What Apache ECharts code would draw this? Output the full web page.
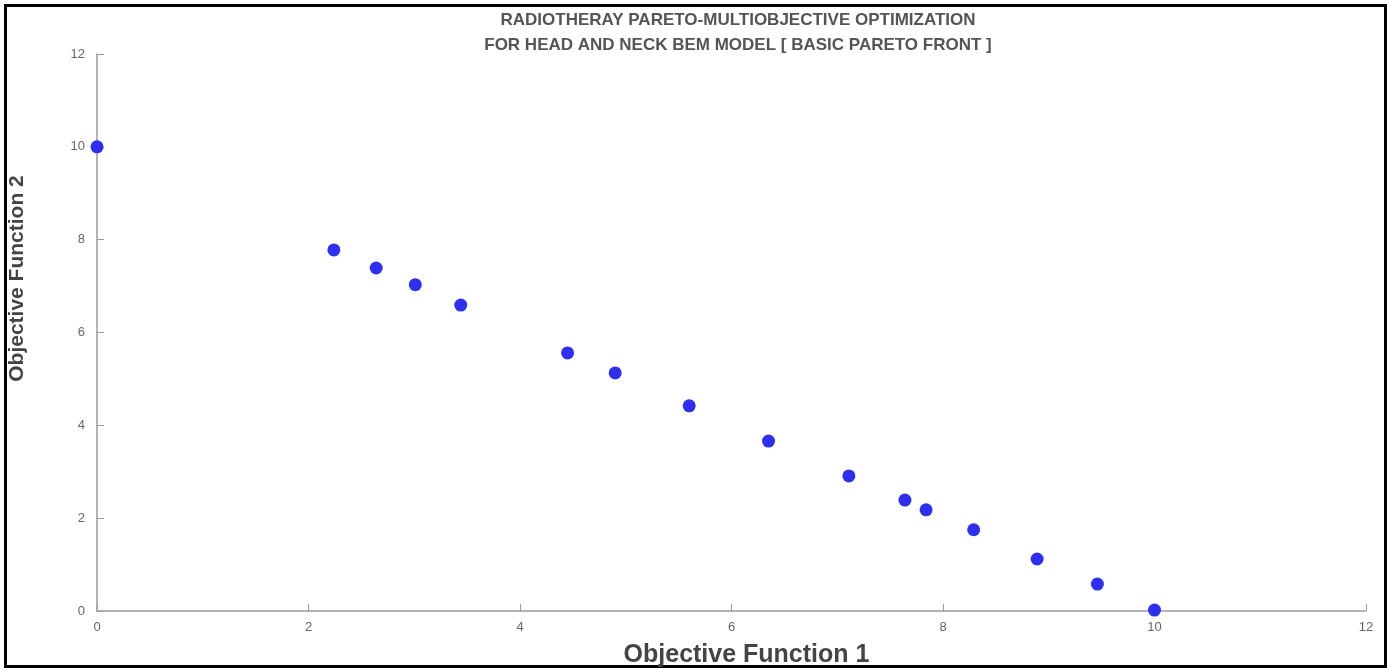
<!DOCTYPE html>
<html>
<head>
<meta charset="utf-8">
<script src="https://cdn.jsdelivr.net/npm/echarts@6/dist/echarts.min.js"></script>
<style>
  html, body { margin: 0; padding: 0; background: #fff; }
  #chart { width: 1391px; height: 671px; }
</style>
</head>
<body>
<div id="chart"></div>
<script>
  // pareto front points
  var objective1 = [0, 2.24, 2.64, 3.01, 3.44, 4.45, 4.90, 5.60, 6.35, 7.11, 7.64, 7.84, 8.29, 8.89, 9.46, 10.0];
  var objective2 = [10.0, 7.78, 7.39, 7.03, 6.59, 5.56, 5.13, 4.42, 3.66, 2.91, 2.39, 2.18, 1.75, 1.12, 0.58, 0.02];

  var titleLines = ['RADIOTHERAY PARETO-MULTIOBJECTIVE OPTIMIZATION', 'FOR HEAD AND NECK BEM MODEL [ BASIC PARETO FRONT ]'];
  var xName = 'Objective Function 1';
  var yName = 'Objective Function 2';

  var points = objective1.map(function (x, i) { return [x, objective2[i]]; });

  var axisGray = '#9a9a9a';
  var labelGray = '#666';

  var myChart = echarts.init(document.getElementById('chart'));
  myChart.setOption({
    animation: false,
    textStyle: { fontFamily: 'Liberation Sans, Arial, sans-serif' },
    title: {
      text: titleLines.join('\n'),
      left: 733,
      textAlign: 'center',
      top: 3,
      textStyle: { fontSize: 17, fontWeight: 'bold', color: '#555', lineHeight: 25 }
    },
    grid: { left: 97, right: 25, top: 54, bottom: 60, containLabel: false, outerBoundsMode: 'none' },
    xAxis: {
      type: 'value',
      min: 0, max: 12, interval: 2,
      name: xName,
      nameLocation: 'middle',
      nameGap: 32,
      nameTextStyle: { fontSize: 25, fontWeight: 'bold', color: '#444', padding: [0, 0, 0, 30] },
      axisLine: { lineStyle: { color: axisGray, width: 1.5 } },
      axisTick: { inside: true, length: 7, lineStyle: { color: axisGray } },
      axisLabel: { color: labelGray, fontSize: 13, margin: 10 },
      splitLine: { show: false }
    },
    yAxis: {
      type: 'value',
      min: 0, max: 12, interval: 2,
      name: yName,
      nameLocation: 'middle',
      nameGap: 69,
      nameTextStyle: { fontSize: 21, fontWeight: 'bold', color: '#444', padding: [0, 0, 0, 108] },
      axisLine: { show: true, lineStyle: { color: axisGray, width: 1.5 } },
      axisTick: { show: true, inside: true, length: 7, lineStyle: { color: axisGray } },
      axisLabel: { color: labelGray, fontSize: 13, margin: 12 },
      splitLine: { show: false }
    },
    graphic: [{
      type: 'rect',
      shape: { x: 5.5, y: 5.5, width: 1380, height: 661 },
      style: { fill: 'none', stroke: '#000', lineWidth: 3 },
      silent: true
    }],
    series: [{
      type: 'scatter',
      data: points,
      symbol: 'circle',
      symbolSize: 13,
      itemStyle: { color: '#2f2ff0', opacity: 1 }
    }]
  });

  window.addEventListener('resize', function () {
    myChart.resize()
  })
</script>
</body>
</html>
